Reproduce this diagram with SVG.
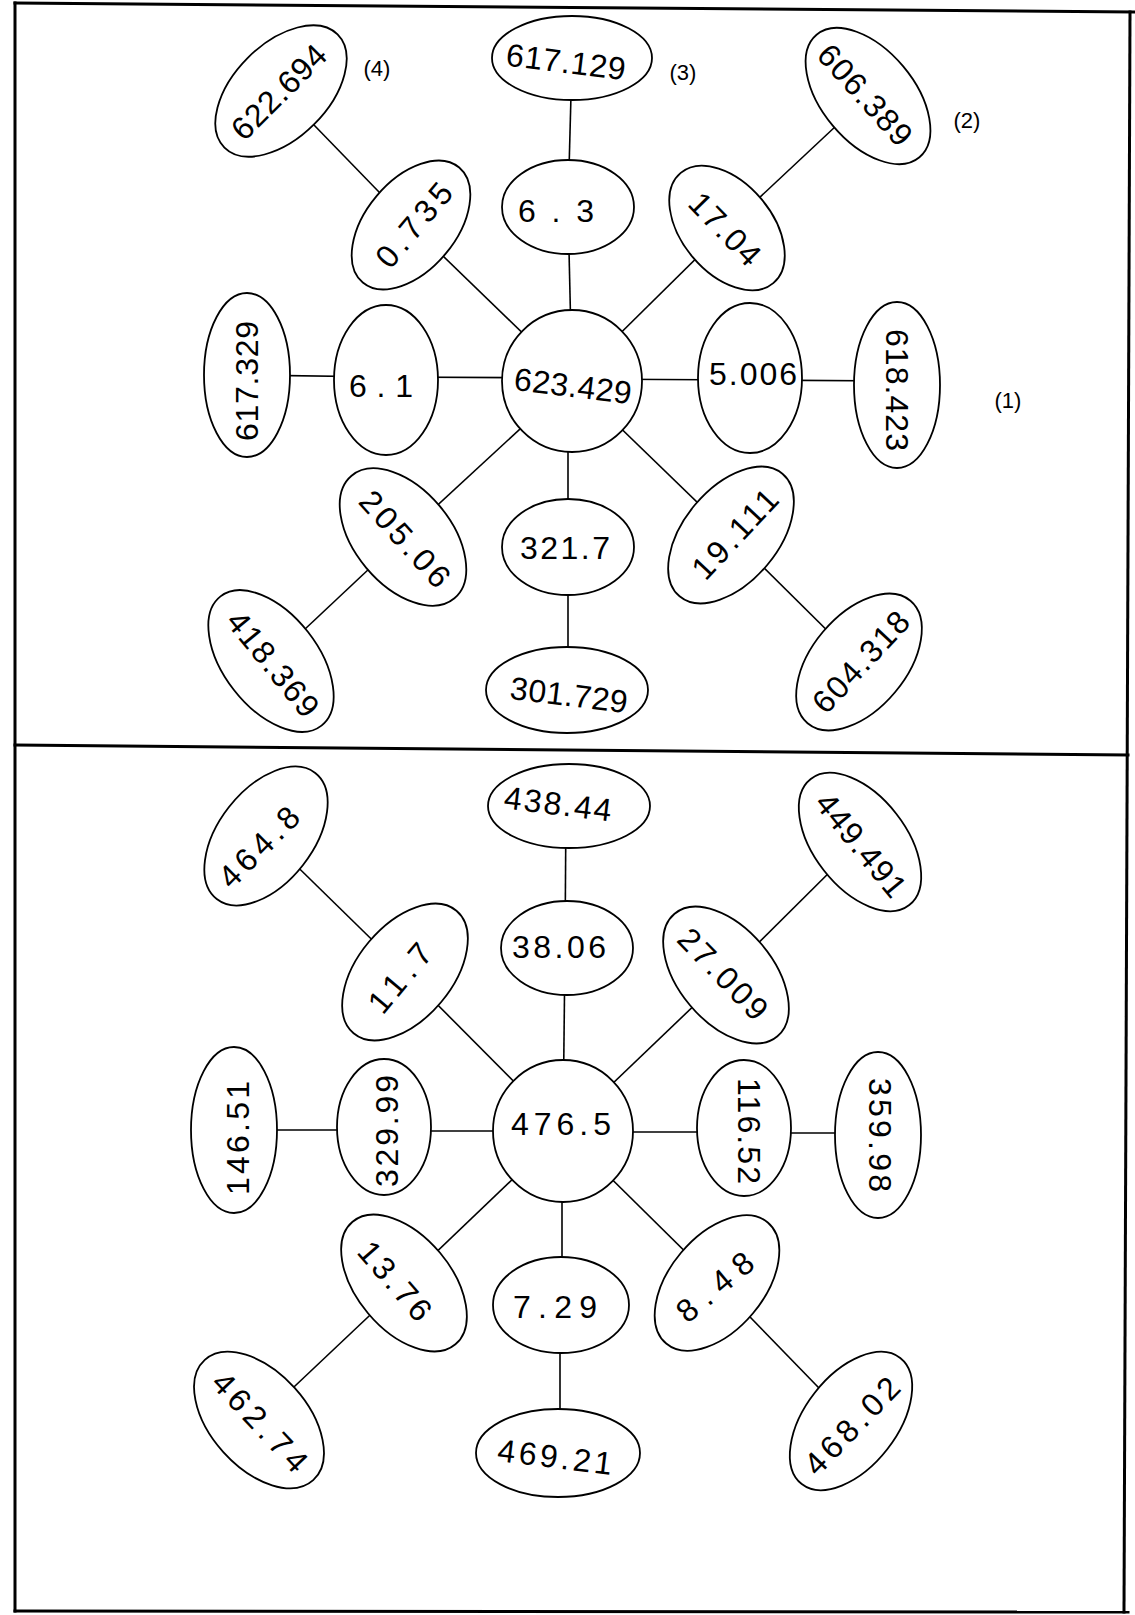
<svg xmlns="http://www.w3.org/2000/svg" width="1135" height="1615" viewBox="0 0 1135 1615">
<style>
  .bg { fill: #ffffff; }
  .frame line { stroke: #000; stroke-width: 3; stroke-linecap: square; }
  .c line { stroke: #000; stroke-width: 1.6; }
  .n ellipse { fill: #fff; stroke: #000; stroke-width: 1.8; }
  .n text { font-family: "Liberation Sans", Arial, sans-serif; font-size: 32px; fill: #000; text-anchor: middle; dominant-baseline: central; }
  .lbl { font-family: "Liberation Sans", Arial, sans-serif; font-size: 22px; fill: #000; text-anchor: middle; dominant-baseline: central; }
</style>
<rect class="bg" x="0" y="0" width="1135" height="1615"/>
<g class="frame">
  <line x1="15" y1="3" x2="1135" y2="12"/>
  <line x1="15" y1="3" x2="15" y2="1611"/>
  <line x1="1130" y1="12" x2="1124" y2="1612"/>
  <line x1="15" y1="1611" x2="1128" y2="1612"/>
  <line x1="15" y1="745" x2="1128" y2="755"/>
</g>
<g id="connectors" class="c">
  <line x1="572" y1="58" x2="568" y2="207"/>
  <line x1="568" y1="207" x2="572" y2="381"/>
  <line x1="281" y1="91" x2="411" y2="225"/>
  <line x1="411" y1="225" x2="572" y2="381"/>
  <line x1="868" y1="96" x2="727" y2="228"/>
  <line x1="727" y1="228" x2="572" y2="381"/>
  <line x1="247" y1="375" x2="386" y2="377"/>
  <line x1="386" y1="377" x2="572" y2="378"/>
  <line x1="572" y1="379" x2="750" y2="380"/>
  <line x1="750" y1="380" x2="897" y2="381"/>
  <line x1="572" y1="381" x2="403" y2="537"/>
  <line x1="403" y1="537" x2="271" y2="661"/>
  <line x1="568" y1="381" x2="568" y2="547"/>
  <line x1="568" y1="547" x2="568" y2="690"/>
  <line x1="572" y1="381" x2="731" y2="535"/>
  <line x1="731" y1="535" x2="859" y2="662"/>
  <line x1="566" y1="806" x2="565" y2="948"/>
  <line x1="565" y1="948" x2="563" y2="1131"/>
  <line x1="266" y1="836" x2="405" y2="972"/>
  <line x1="405" y1="972" x2="563" y2="1131"/>
  <line x1="860" y1="842" x2="726" y2="975"/>
  <line x1="726" y1="975" x2="563" y2="1131"/>
  <line x1="234" y1="1130" x2="384" y2="1130"/>
  <line x1="384" y1="1131" x2="563" y2="1131"/>
  <line x1="563" y1="1132" x2="744" y2="1132"/>
  <line x1="744" y1="1133" x2="878" y2="1133"/>
  <line x1="563" y1="1131" x2="404" y2="1283"/>
  <line x1="404" y1="1283" x2="259" y2="1420"/>
  <line x1="562" y1="1131" x2="562" y2="1305"/>
  <line x1="560" y1="1305" x2="560" y2="1453"/>
  <line x1="563" y1="1131" x2="717" y2="1283"/>
  <line x1="717" y1="1283" x2="851" y2="1421"/>
</g>
<g id="n-617-129" class="n"><ellipse cx="572" cy="58" rx="80" ry="42"/><text x="566" y="62" transform="rotate(7 566 62)" textLength="120">617.129</text></g>
<g id="n-6-3" class="n"><ellipse cx="568" cy="207" rx="66" ry="47"/><text x="556" y="211" textLength="76">6.3</text></g>
<g id="n-623-429" class="n"><ellipse cx="572" cy="381" rx="70" ry="71"/><text x="573" y="386" transform="rotate(7 573 386)" textLength="118">623.429</text></g>
<g id="n-0-735" class="n"><ellipse cx="411" cy="225" rx="75" ry="45" transform="rotate(-50 411 225)"/><text x="414" y="225" transform="rotate(-50 414 225)" textLength="100">0.735</text></g>
<g id="n-622-694" class="n"><ellipse cx="281" cy="91" rx="80" ry="47" transform="rotate(-45 281 91)"/><text x="279" y="92" transform="rotate(-45 279 92)" textLength="120">622.694</text></g>
<g id="n-17-04" class="n"><ellipse cx="727" cy="228" rx="72" ry="45" transform="rotate(50 727 228)"/><text x="725" y="229" transform="rotate(46 725 229)" textLength="88">17.04</text></g>
<g id="n-606-389" class="n"><ellipse cx="868" cy="96" rx="80" ry="46" transform="rotate(50 868 96)"/><text x="865" y="95" transform="rotate(48 865 95)" textLength="124">606.389</text></g>
<g id="n-6-1" class="n"><ellipse cx="386" cy="380" rx="52" ry="75"/><text x="381" y="386" textLength="64">6.1</text></g>
<g id="n-617-329" class="n"><ellipse cx="247" cy="375" rx="43" ry="82"/><text x="247" y="381" transform="rotate(-90 247 381)" textLength="120">617.329</text></g>
<g id="n-5-006" class="n"><ellipse cx="750" cy="378" rx="52" ry="75"/><text x="753" y="374" textLength="88">5.006</text></g>
<g id="n-618-423" class="n"><ellipse cx="897" cy="385" rx="43" ry="83"/><text x="897" y="390" transform="rotate(90 897 390)" textLength="122">618.423</text></g>
<g id="n-205-06" class="n"><ellipse cx="403" cy="537" rx="80" ry="48" transform="rotate(50 403 537)"/><text x="405" y="539" transform="rotate(48 405 539)" textLength="118">205.06</text></g>
<g id="n-321-7" class="n"><ellipse cx="568" cy="547" rx="66" ry="48"/><text x="565" y="548" textLength="90">321.7</text></g>
<g id="n-19-111" class="n"><ellipse cx="731" cy="535" rx="80" ry="47" transform="rotate(-50 731 535)"/><text x="735" y="534" transform="rotate(-47 735 534)" textLength="110">19.111</text></g>
<g id="n-418-369" class="n"><ellipse cx="271" cy="661" rx="82" ry="47" transform="rotate(52 271 661)"/><text x="273" y="664" transform="rotate(51 273 664)" textLength="126">418.369</text></g>
<g id="n-301-729" class="n"><ellipse cx="567" cy="690" rx="81" ry="43"/><text x="569" y="695" transform="rotate(7 569 695)" textLength="118">301.729</text></g>
<g id="n-604-318" class="n"><ellipse cx="859" cy="662" rx="80" ry="47" transform="rotate(-50 859 662)"/><text x="861" y="662" transform="rotate(-47 861 662)" textLength="126">604.318</text></g>
<g id="n-438-44" class="n"><ellipse cx="569" cy="806" rx="81" ry="42"/><text x="558" y="804" transform="rotate(7 558 804)" textLength="108">438.44</text></g>
<g id="n-38-06" class="n"><ellipse cx="567" cy="948" rx="66" ry="47"/><text x="559" y="947" textLength="94">38.06</text></g>
<g id="n-476-5" class="n"><ellipse cx="563" cy="1131" rx="70" ry="71"/><text x="561" y="1124" textLength="100">476.5</text></g>
<g id="n-464-8" class="n"><ellipse cx="266" cy="836" rx="80" ry="47" transform="rotate(-52 266 836)"/><text x="259" y="847" transform="rotate(-45 259 847)" textLength="100">464.8</text></g>
<g id="n-11-7" class="n"><ellipse cx="405" cy="972" rx="80" ry="47" transform="rotate(-50 405 972)"/><text x="400" y="978" transform="rotate(-50 400 978)" textLength="80">11.7</text></g>
<g id="n-449-491" class="n"><ellipse cx="860" cy="842" rx="80" ry="46" transform="rotate(52 860 842)"/><text x="861" y="845" transform="rotate(51 861 845)" textLength="124">449.491</text></g>
<g id="n-27-009" class="n"><ellipse cx="726" cy="975" rx="80" ry="47" transform="rotate(50 726 975)"/><text x="723" y="974" transform="rotate(46 723 974)" textLength="114">27.009</text></g>
<g id="n-146-51" class="n"><ellipse cx="234" cy="1130" rx="43" ry="83"/><text x="238" y="1138" transform="rotate(-90 238 1138)" textLength="114">146.51</text></g>
<g id="n-329-99" class="n"><ellipse cx="384" cy="1127" rx="47" ry="68"/><text x="387" y="1131" transform="rotate(-90 387 1131)" textLength="112">329.99</text></g>
<g id="n-116-52" class="n"><ellipse cx="744" cy="1128" rx="47" ry="68"/><text x="749" y="1131" transform="rotate(90 749 1131)" textLength="106">116.52</text></g>
<g id="n-359-98" class="n"><ellipse cx="878" cy="1135" rx="43" ry="83"/><text x="880" y="1135" transform="rotate(90 880 1135)" textLength="114">359.98</text></g>
<g id="n-13-76" class="n"><ellipse cx="404" cy="1283" rx="80" ry="47" transform="rotate(50 404 1283)"/><text x="395" y="1281" transform="rotate(49 395 1281)" textLength="94">13.76</text></g>
<g id="n-7-29" class="n"><ellipse cx="561" cy="1305" rx="68" ry="48"/><text x="555" y="1307" textLength="84">7.29</text></g>
<g id="n-8-48" class="n"><ellipse cx="717" cy="1283" rx="79" ry="47" transform="rotate(-50 717 1283)"/><text x="715" y="1287" transform="rotate(-40 715 1287)" textLength="90">8.48</text></g>
<g id="n-462-74" class="n"><ellipse cx="259" cy="1420" rx="81" ry="48" transform="rotate(48 259 1420)"/><text x="260" y="1422" transform="rotate(47 260 1422)" textLength="124">462.74</text></g>
<g id="n-469-21" class="n"><ellipse cx="558" cy="1453" rx="82" ry="44"/><text x="555" y="1457" transform="rotate(7 555 1457)" textLength="115">469.21</text></g>
<g id="n-468-02" class="n"><ellipse cx="851" cy="1421" rx="80" ry="46" transform="rotate(-52 851 1421)"/><text x="852" y="1426" transform="rotate(-46 852 1426)" textLength="122">468.02</text></g>
<g id="labels">
  <text class="lbl" x="377" y="68">(4)</text>
  <text class="lbl" x="683" y="72">(3)</text>
  <text class="lbl" x="967" y="120">(2)</text>
  <text class="lbl" x="1008" y="400">(1)</text>
</g>
</svg>
